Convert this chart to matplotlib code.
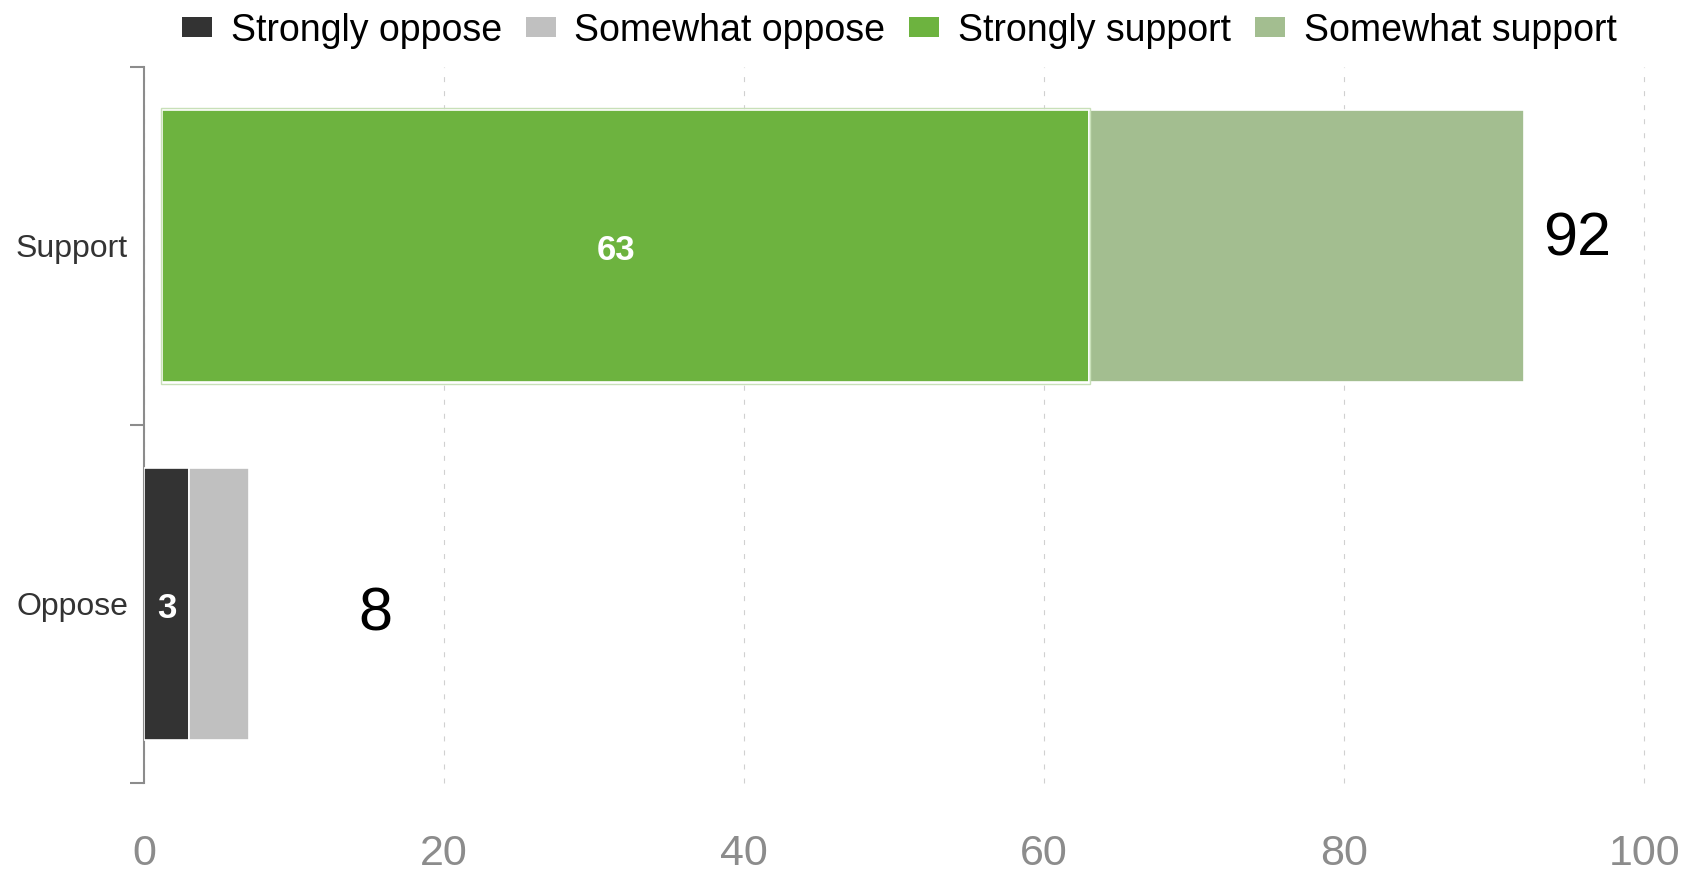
import numpy as np
import matplotlib
matplotlib.use('Agg')
import matplotlib.pyplot as plt

plt.rcParams['font.family'] = ['Liberation Sans', 'DejaVu Sans']
plt.rcParams['lines.scale_dashes'] = False

## data
categories = ['Oppose', 'Support']
series_names = ['Strongly oppose', 'Somewhat oppose', 'Strongly support', 'Somewhat support']
strongly_oppose = [3, 0]
somewhat_oppose = [4, 0]
strongly_support = [0, 63]
somewhat_support = [0, 29]
totals = [8, 92]
x_ticks = [0, 20, 40, 60, 80, 100]

colors = ['#333333', '#c0c0c0', '#6db33f', '#a3be90']

fig = plt.figure(figsize=(17, 8.73), dpi=100)
ax = fig.add_axes([0.0847, 0.1031, 0.8824, 0.8202])

y = np.arange(len(categories))
series = [strongly_oppose, somewhat_oppose, strongly_support, somewhat_support]

# the support bar starts a little right of zero in the original
row_inset = [0, 1.2]
bar_h = 0.76

left = np.zeros(len(categories))
for k, (name, vals, col) in enumerate(zip(series_names, series, colors)):
    vals = np.array(vals, dtype=float)
    for i in range(len(categories)):
        if vals[i] == 0:
            continue
        start = left[i]
        width = vals[i]
        if start == 0:
            start += row_inset[i]
            width -= row_inset[i]
        ax.barh(y[i], width, left=start, height=bar_h, color=col,
                edgecolor='white', linewidth=1.2, zorder=3)
        if name == 'Strongly support':
            # faint outer outline seen around the green segment
            ax.barh(y[i], width + 0.15, left=start - 0.075, height=bar_h + 0.012,
                    fill=False, edgecolor='#c8e0b8', linewidth=1, zorder=3.5)
    left += vals
    # legend proxy
    ax.barh(np.nan, 0, color=col, label=name)

# values inside the "strongly" segments
for i in range(len(categories)):
    for vals in (strongly_oppose, strongly_support):
        if vals[i] > 0:
            ax.text(vals[i] / 2, y[i] - 0.012, str(vals[i]), ha='center', va='center',
                    color='white', fontsize=25, fontweight='bold', zorder=4)

# totals
total_x = [14.3, 93.3]
total_y = [-0.03, 1.018]
for i, t in enumerate(totals):
    ax.text(total_x[i], total_y[i], str(t), ha='left', va='center',
            fontsize=44, color='black')

ax.set_xlim(0, 100)
ax.set_ylim(-0.5, 1.5)
ax.set_xticks(x_ticks)
ax.set_xticklabels([str(v) for v in x_ticks])
ax.tick_params(axis='x', length=0, labelsize=31, labelcolor='#8c8c8c', pad=37)

ax.set_yticks([-0.5, 0.5, 1.5])
ax.set_yticklabels([])
ax.set_yticks(y, minor=True)
ax.set_yticklabels(categories, minor=True)
ax.tick_params(axis='y', which='major', length=10, width=1.5, color='#8c8c8c')
ax.tick_params(axis='y', which='minor', length=0, pad=11.5, labelsize=23,
               labelcolor='#333333')

ax.set_axisbelow(True)
ax.xaxis.grid(True, color='#d0d0d0', linestyle=(0, (3.6, 6.5)), linewidth=0.8)
for gl in ax.get_xgridlines():
    gl.set_clip_on(False)

for s in ['top', 'right', 'bottom']:
    ax.spines[s].set_visible(False)
ax.spines['left'].set_color('#8c8c8c')
ax.spines['left'].set_linewidth(1.5)

fig.legend(loc='center', bbox_to_anchor=(0.529, 0.965), ncol=4, frameon=False,
           fontsize=27, handlelength=0.8, handleheight=0.45, handletextpad=0.5,
           columnspacing=0.64, borderpad=0)

fig.savefig('out.png', dpi=100)
